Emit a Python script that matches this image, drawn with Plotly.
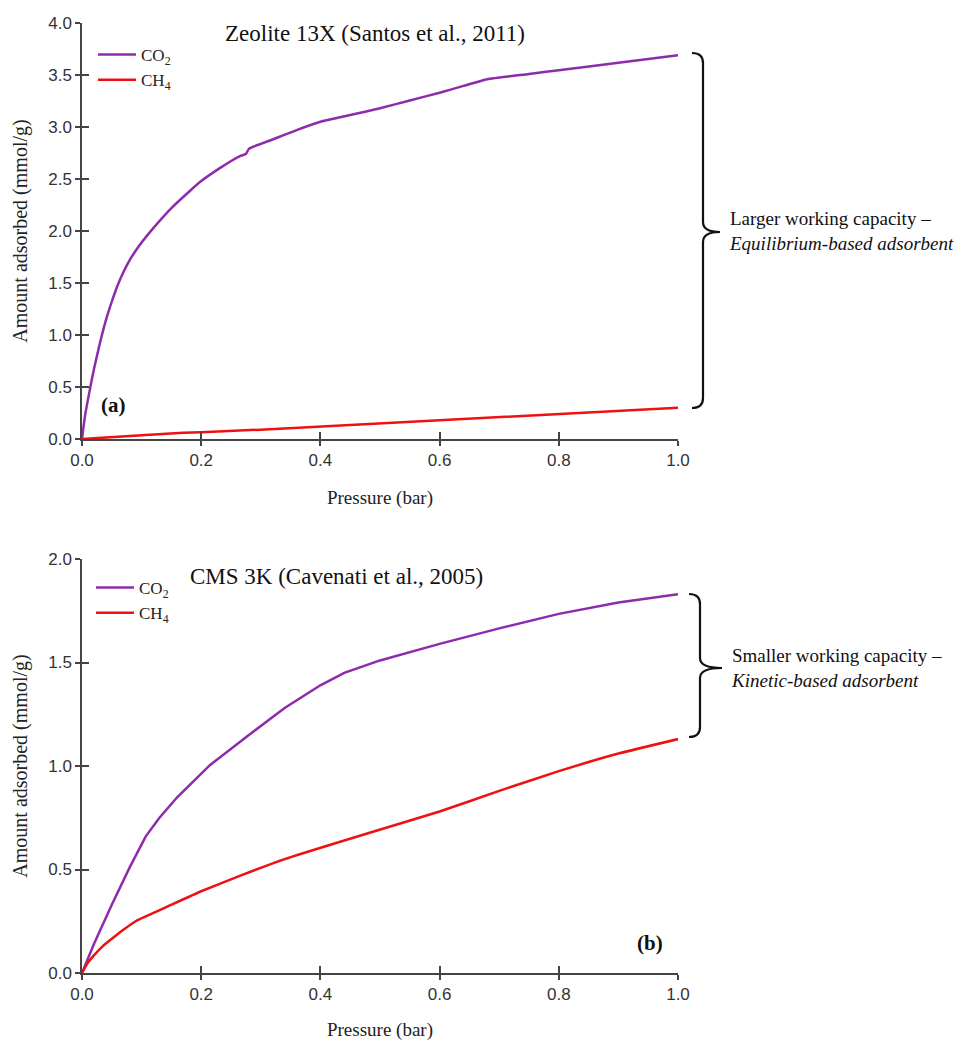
import plotly.graph_objects as go

# ---------------- data ----------------
p_13x_co2 = [0.0, 0.005, 0.013, 0.02, 0.03, 0.04, 0.05, 0.06, 0.07, 0.08, 0.09, 0.10, 0.12, 0.15,
             0.18, 0.20, 0.23, 0.265, 0.275, 0.28, 0.32, 0.36, 0.40, 0.45, 0.50, 0.55, 0.60,
             0.64, 0.68, 0.75, 0.80, 0.90, 1.0]
q_13x_co2 = [0.0, 0.22, 0.47, 0.67, 0.92, 1.14, 1.32, 1.48, 1.61, 1.72, 1.81, 1.89, 2.03, 2.22,
             2.38, 2.48, 2.60, 2.72, 2.74, 2.79, 2.88, 2.97, 3.05, 3.115, 3.18, 3.255, 3.33,
             3.395, 3.46, 3.51, 3.546, 3.618, 3.69]
p_13x_ch4 = [0.0, 0.05, 0.10, 0.17, 0.20, 0.30, 0.40, 0.50, 0.60, 0.68, 0.80, 0.90, 1.0]
q_13x_ch4 = [0.0, 0.015, 0.035, 0.06, 0.065, 0.09, 0.12, 0.15, 0.18, 0.205, 0.24, 0.27, 0.30]

p_cms_co2 = [0.0, 0.02, 0.05, 0.08, 0.107, 0.13, 0.16, 0.215, 0.28, 0.34, 0.40, 0.44, 0.50, 0.60,
             0.70, 0.80, 0.90, 1.0]
q_cms_co2 = [0.0, 0.14, 0.33, 0.51, 0.66, 0.75, 0.85, 1.005, 1.15, 1.28, 1.39, 1.45, 1.51, 1.59,
             1.665, 1.735, 1.79, 1.83]
p_cms_ch4 = [0.0, 0.01, 0.02, 0.035, 0.05, 0.07, 0.09, 0.12, 0.15, 0.20, 0.27, 0.34, 0.44,
             0.52, 0.60, 0.70, 0.80, 0.90, 1.0]
q_cms_ch4 = [0.0, 0.05, 0.085, 0.13, 0.165, 0.21, 0.25, 0.29, 0.33, 0.395, 0.475, 0.55, 0.64,
             0.71, 0.78, 0.88, 0.975, 1.06, 1.13]

x_ticks = [0.0, 0.2, 0.4, 0.6, 0.8, 1.0]
y_ticks_a = [0.0, 0.5, 1.0, 1.5, 2.0, 2.5, 3.0, 3.5, 4.0]
y_ticks_b = [0.0, 0.5, 1.0, 1.5, 2.0]

CO2_COLOR = "#8E2BAA"
CH4_COLOR = "#EE1111"
AX_COLOR = "#444444"
SERIF = "Liberation Serif, Times New Roman, serif"
SANS = "Liberation Sans, Arial, sans-serif"

W, H = 970, 1041
ML, MR, MT, MB = 82, 292, 23, 68
PW = W - ML - MR
PH = H - MT - MB


def px_x(px):
    return (px - ML) / PW


def px_y(py):
    return (H - MB - py) / PH


top_dom = [px_y(439), 1.0]
bot_dom = [0.0, px_y(559)]

fig = go.Figure()

fig.add_trace(go.Scatter(x=p_13x_co2, y=q_13x_co2, mode="lines", name="CO<sub>2</sub>",
                         line=dict(color=CO2_COLOR, width=2.5, shape="spline", smoothing=0.5),
                         xaxis="x", yaxis="y", legend="legend", cliponaxis=False))
fig.add_trace(go.Scatter(x=p_13x_ch4, y=q_13x_ch4, mode="lines", name="CH<sub>4</sub>",
                         line=dict(color=CH4_COLOR, width=2.5), xaxis="x", yaxis="y",
                         legend="legend", cliponaxis=False))
fig.add_trace(go.Scatter(x=p_cms_co2, y=q_cms_co2, mode="lines", name="CO<sub>2</sub>",
                         line=dict(color=CO2_COLOR, width=2.5), xaxis="x2", yaxis="y2",
                         legend="legend2", cliponaxis=False))
fig.add_trace(go.Scatter(x=p_cms_ch4, y=q_cms_ch4, mode="lines", name="CH<sub>4</sub>",
                         line=dict(color=CH4_COLOR, width=2.5, shape="spline", smoothing=0.4),
                         xaxis="x2", yaxis="y2", legend="legend2", cliponaxis=False))
# empty traces to hold the overlay (inside-tick) axes
fig.add_trace(go.Scatter(x=[], y=[], xaxis="x3", yaxis="y3", showlegend=False))
fig.add_trace(go.Scatter(x=[], y=[], xaxis="x4", yaxis="y4", showlegend=False))

tickfont = dict(family=SANS, size=17, color="#333333")
xtitlefont = dict(family=SERIF, size=19, color="#222222")
ytitlefont = dict(family=SERIF, size=20, color="#222222")

common_x = dict(range=[0, 1.0], tickvals=x_ticks, tickformat=".1f", showgrid=False, zeroline=False,
                showline=True, linecolor=AX_COLOR, linewidth=1.5, ticks="outside", ticklen=5,
                tickwidth=1.5, tickcolor=AX_COLOR, tickfont=tickfont, automargin=False)
common_y = dict(tickformat=".1f", showgrid=False, zeroline=False, showline=True, linecolor=AX_COLOR,
                linewidth=1.5, ticks="outside", ticklen=5, tickwidth=1.5, tickcolor=AX_COLOR,
                tickfont=tickfont, automargin=False)
inner = dict(showgrid=False, zeroline=False, showline=False, ticks="inside", ticklen=7, tickwidth=1.5,
             tickcolor=AX_COLOR, showticklabels=False, automargin=False)

fig.update_layout(
    width=W, height=H,
    margin=dict(l=ML, r=MR, t=MT, b=MB, autoexpand=False),
    paper_bgcolor="white", plot_bgcolor="white",
    xaxis=dict(**common_x, domain=[0, 1], anchor="y",
               title=dict(text="Pressure (bar)", font=xtitlefont, standoff=22)),
    yaxis=dict(**common_y, domain=top_dom, anchor="x", range=[0, 4.0], tickvals=y_ticks_a,
               title=dict(text="Amount adsorbed (mmol/g)", font=ytitlefont, standoff=15)),
    xaxis2=dict(**common_x, domain=[0, 1], anchor="y2",
                title=dict(text="Pressure (bar)", font=xtitlefont, standoff=22)),
    yaxis2=dict(**common_y, domain=bot_dom, anchor="x2", range=[0, 2.0], tickvals=y_ticks_b,
                title=dict(text="Amount adsorbed (mmol/g)", font=ytitlefont, standoff=15)),
    xaxis3=dict(**inner, overlaying="x", anchor="y3", range=[0, 1.0], tickvals=x_ticks),
    yaxis3=dict(**inner, overlaying="y", anchor="x3", range=[0, 4.0], tickvals=y_ticks_a),
    xaxis4=dict(**inner, overlaying="x2", anchor="y4", range=[0, 1.0], tickvals=x_ticks),
    yaxis4=dict(**inner, overlaying="y2", anchor="x4", range=[0, 2.0], tickvals=y_ticks_b),
    legend=dict(x=px_x(93), y=px_y(37), xanchor="left", yanchor="top", bgcolor="rgba(0,0,0,0)",
                font=dict(family=SERIF, size=17, color="#222222"), tracegroupgap=0, itemwidth=38),
    legend2=dict(x=px_x(91), y=px_y(570), xanchor="left", yanchor="top", bgcolor="rgba(0,0,0,0)",
                 font=dict(family=SERIF, size=17, color="#222222"), tracegroupgap=0, itemwidth=38),
    showlegend=True,
)

annots = [
    dict(text="Zeolite 13X (Santos et al., 2011)", x=px_x(375), y=px_y(34), size=23),
    dict(text="CMS 3K (Cavenati et al., 2005)", x=px_x(336), y=px_y(576), size=23),
    dict(text="<b>(a)</b>", x=px_x(113), y=px_y(405), size=21),
    dict(text="<b>(b)</b>", x=px_x(650), y=px_y(943), size=21),
]
for a in annots:
    fig.add_annotation(text=a["text"], x=a["x"], y=a["y"], xref="paper", yref="paper",
                       showarrow=False, xanchor="center", yanchor="middle",
                       font=dict(family=SERIF, size=a["size"], color="#111111"))

side_texts = [
    ("Larger working capacity –<br><i>Equilibrium-based adsorbent</i>", 727, 231),
    ("Smaller working capacity –<br><i>Kinetic-based adsorbent</i>", 729, 668),
]
for t, px, py in side_texts:
    fig.add_annotation(text=t, x=px_x(px), y=px_y(py), xref="paper", yref="paper", showarrow=False,
                       xanchor="left", yanchor="middle", align="left",
                       font=dict(family=SERIF, size=19, color="#111111"))


def brace(xl, xs, xt, yt, ym, yb, r=10):
    def P(x, y):
        return f"{px_x(x):.5f},{px_y(y):.5f}"
    d = (f"M{P(xl, yt)} Q{P(xs, yt)} {P(xs, yt + r)} L{P(xs, ym - r)} "
         f"Q{P(xs, ym)} {P(xt, ym)} Q{P(xs, ym)} {P(xs, ym + r)} "
         f"L{P(xs, yb - r)} Q{P(xs, yb)} {P(xl, yb)}")
    return d


fig.add_shape(type="path", path=brace(692, 703, 720, 53, 232, 408), xref="paper", yref="paper",
              line=dict(color="#111111", width=2.2))
fig.add_shape(type="path", path=brace(689, 700, 722, 594, 668, 737), xref="paper", yref="paper",
              line=dict(color="#111111", width=2.2))

fig.write_html("out.html", config={"displayModeBar": False},
               post_script="document.body.style.margin='0';document.body.style.overflow='hidden';")
